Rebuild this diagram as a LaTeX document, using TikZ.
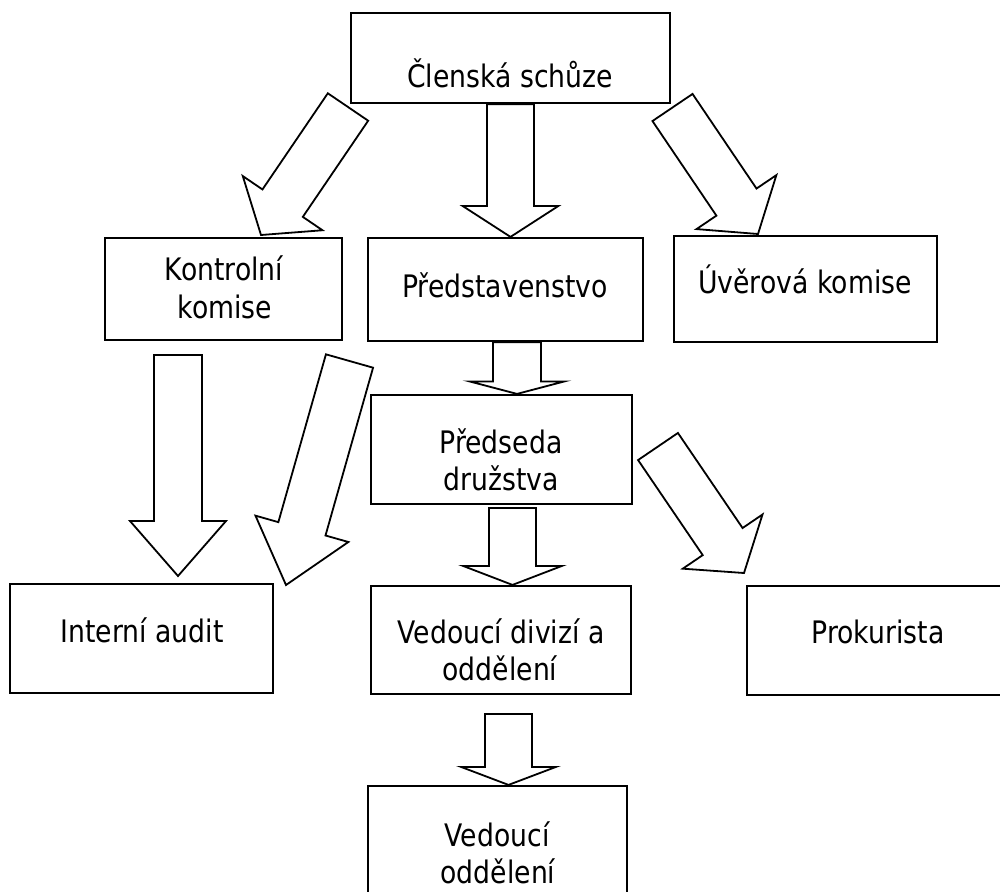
\documentclass[tikz,border=0pt]{standalone}
\usepackage{fontspec}
\setmainfont{DejaVu Sans}[FakeStretch=0.86]
\usetikzlibrary{calc,fit}
\tikzset{
  box/.style={draw, line width=2.2pt, inner sep=0pt, fill=white},
  txt/.style={inner sep=0pt, anchor=base, font=\fontsize{31pt}{37.5pt}\selectfont},
  barrow/.style={draw, line width=1.8pt, line join=miter, fill=white},
}
% #1 tail, #2 tip, #3 half shaft width, #4 half head width, #5 head length
\newcommand\blockarr[5]{%
  \coordinate (ahb) at ($(#2)!#5!(#1)$);
  \draw[barrow] ($(#1)!#3!90:(#2)$) -- ($(ahb)!#3!90:(#2)$) -- ($(ahb)!#4!90:(#2)$)
    -- (#2) -- ($(ahb)!#4!-90:(#2)$) -- ($(ahb)!#3!-90:(#2)$) -- ($(#1)!#3!-90:(#2)$) -- cycle;}
\begin{document}
\begin{tikzpicture}[x=1pt,y=-1pt]
\clip (0,0) rectangle (1000,891);
\fill[white] (0,0) rectangle (1000,891);
% boxes
\node[box, fit={(351,13) (670,103)}] (clen) {};
\node[box, fit={(105,238) (342,340)}] (kontrol) {};
\node[box, fit={(368,238) (643,341)}] (pred) {};
\node[box, fit={(674,236) (937,342)}] (uver) {};
\node[box, fit={(371,395) (632,504)}] (predseda) {};
\node[box, fit={(10,584) (273,693)}] (audit) {};
\node[box, fit={(371,586) (631,694)}] (vedd) {};
\node[box, fit={(747,586) (1010,695)}] (prok) {};
\node[box, fit={(368,786) (627,905)}] (vedo) {};
% texts
\node[txt] (t1) at (510,87) {Členská schůze};
\node[txt] (t2) at (224,280) {Kontrolní};
\node[txt] (t3) at (225,318) {komise};
\node[txt] (t4) at (505,297) {Představenstvo};
\node[txt] (t5) at (805,293) {Úvěrová komise};
\node[txt] (t6) at (501,453) {Předseda};
\node[txt] (t7) at (501,490) {družstva};
\node[txt] (t8) at (142,642) {Interní audit};
\node[txt] (t9) at (501,643) {Vedoucí divizí a};
\node[txt] (t10) at (500,680) {oddělení};
\node[txt] (t11) at (878,643) {Prokurista};
\node[txt] (t12) at (497,846) {Vedoucí};
\node[txt] (t13) at (498,883) {oddělení};
% connector end points
\coordinate (k1) at (348,107);   \coordinate (k2) at (261,235);
\coordinate (u1) at (672.5,107.5); \coordinate (u2) at (758,234);
\coordinate (a1) at (178,355);   \coordinate (a2) at (178,576);
\coordinate (d1) at (349.5,361); \coordinate (d2) at (286,585);
\coordinate (v1) at (512.5,508);
\coordinate (p1) at (658,446.5); \coordinate (p2) at (744,573);
\coordinate (o1) at (508.5,714);
% block arrows
\blockarr{clen.south}{clen.south |- pred.north}{23.5pt}{48pt}{31pt}
\blockarr{k1}{k2}{24.4pt}{48.2pt}{38.5pt}
\blockarr{u1}{u2}{24.2pt}{48.2pt}{38.5pt}
\blockarr{[xshift=11.5pt]pred.south}{[xshift=11.5pt]pred.south |- predseda.north}{24pt}{47.5pt}{12.5pt}
\blockarr{a1}{a2}{24pt}{48pt}{55pt}
\blockarr{d1}{d2}{24.5pt}{48.3pt}{58.4pt}
\blockarr{v1}{v1 |- vedd.north}{23.5pt}{49.5pt}{19pt}
\blockarr{p1}{p2}{24.1pt}{48.2pt}{38pt}
\blockarr{o1}{o1 |- vedo.north}{23.5pt}{47.5pt}{18pt}
\end{tikzpicture}
\end{document}
